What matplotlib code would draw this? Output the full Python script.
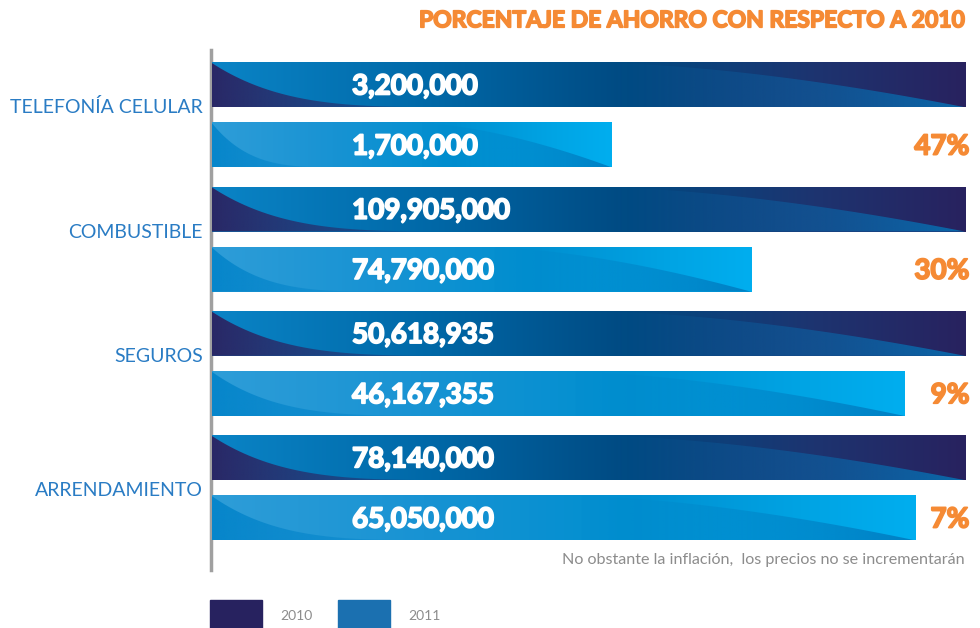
import numpy as np
import matplotlib.pyplot as plt
import matplotlib.patheffects as pe
from matplotlib.colors import LinearSegmentedColormap
from matplotlib.patches import Polygon, Rectangle

# data
categories = ["TELEFONÍA CELULAR", "COMBUSTIBLE", "SEGUROS", "ARRENDAMIENTO"]
gasto_2010 = [3200000, 109905000, 50618935, 78140000]
gasto_2011 = [1700000, 74790000, 46167355, 65050000]
ahorro_pct = [47, 30, 9, 7]
largo_2010 = [100, 100, 100, 100]          # bar length as drawn (% of full width)
largo_2011 = [53.1, 71.6, 92.0, 93.4]
years = ["2010", "2011"]

ORANGE = "#f58a34"
BLUE_TXT = "#2a7cc4"
GREY = "#8c8c8c"
label_dy = [-0.07, -0.06, -0.06, 0.02]

base_2010 = LinearSegmentedColormap.from_list(
    "b10", [(0, "#0a84c6"), (0.3, "#0067a6"), (0.55, "#004a82"),
            (0.8, "#1d3470"), (1, "#28225f")])
base_2011 = LinearSegmentedColormap.from_list(
    "b11", [(0, "#2e9dd8"), (0.3, "#1893d3"), (0.6, "#008fd0"),
            (0.85, "#00a4e4"), (1, "#00aeef")])


def hgrad(ax, cmap, x0, x1, y0, y1, clip=None, alpha=None, z=2):
    n = 256
    rgba = cmap(np.linspace(0, 1, n))[None, :, :].copy()
    if alpha is not None:
        rgba[0, :, 3] = alpha
    im = ax.imshow(rgba, extent=(x0, x1, y1, y0), aspect="auto",
                   interpolation="bilinear", zorder=z)
    if clip is not None:
        ax.add_patch(clip)
        im.set_clip_path(clip)
    return im


def draw_bar(ax, y, w, h, base, left_col, right_col):
    top, bot = y - h / 2, y + h / 2
    hgrad(ax, base, 0, w, top, bot)
    t = np.linspace(0, 1, 60)
    # lower-left swoosh
    x1 = 0.36 * w
    cx = t * x1
    cy = top + h * (1 - (1 - t) ** 4)
    verts = np.column_stack([np.r_[0, cx, 0], np.r_[top, cy, bot]])
    poly = Polygon(verts, closed=True, fc="none", ec="none")
    cm = LinearSegmentedColormap.from_list("l", [left_col, left_col])
    hgrad(ax, cm, 0, x1, top, bot, clip=poly,
          alpha=np.linspace(1, 0, 256) ** 0.8, z=3)
    # lower-right swoosh
    x0 = 0.52 * w
    cx = x0 + t * (w - x0)
    cy = top + h * t ** 1.6
    verts = np.column_stack([np.r_[cx, w, x0], np.r_[cy, bot, bot]])
    poly = Polygon(verts, closed=True, fc="none", ec="none")
    cm = LinearSegmentedColormap.from_list("r", [right_col, right_col])
    hgrad(ax, cm, x0, w, top, bot, clip=poly,
          alpha=np.linspace(0, 1, 256) ** 1.1, z=3)


fig = plt.figure(figsize=(9.8, 6.28), dpi=100)
ax = fig.add_axes([212 / 980, 58 / 628, 753 / 980, 520 / 628])
ax.set_axis_off()

gap = 0.242
h = 0.355
pos = np.arange(len(categories))
bold = dict(fontsize=20, fontweight="bold", family="Lato", zorder=5)
thick_w = [pe.withStroke(linewidth=1.3, foreground="white")]
thick_o = [pe.withStroke(linewidth=1.3, foreground=ORANGE)]
for i in pos:
    draw_bar(ax, i - gap, largo_2010[i], h, base_2010, "#2a2866", "#0a68aa")
    draw_bar(ax, i + gap, largo_2011[i], h, base_2011, "#0786cb", "#0080c4")
    ax.text(18.6, i - gap + 0.01, f"{gasto_2010[i]:,}", color="white",
            ha="left", va="center", path_effects=thick_w, **bold)
    ax.text(18.6, i + gap + 0.01, f"{gasto_2011[i]:,}", color="white",
            ha="left", va="center", path_effects=thick_w, **bold)
    ax.text(100.6, i + gap + 0.01, f"{ahorro_pct[i]}%", color=ORANGE,
            ha="right", va="center", path_effects=thick_o, **bold)
    ax.text(-1.2, i + label_dy[i], categories[i], color=BLUE_TXT, fontsize=14,
            family="Lato", ha="right", va="center")

ax.set_xlim(0, 100)
ax.set_ylim(3.658, -0.525)
ax.axvline(-0.15, color="#a0a0a0", lw=2.5, zorder=1, clip_on=False)

ax.text(100, -0.76, "PORCENTAJE DE AHORRO CON RESPECTO A 2010",
        color=ORANGE, fontsize=16.5, fontweight="bold", family="Lato",
        ha="right", va="center",
        path_effects=[pe.withStroke(linewidth=1.2, foreground=ORANGE)])
ax.text(100, 3.58, "No obstante la inflación,  los precios no se incrementarán",
        color=GREY, fontsize=11.6, family="Lato", ha="right", va="center")

# legend
leg_col = ["#27225f", "#1b70b0"]
leg_x = [212, 340]
for k, yr in enumerate(years):
    fig.patches.append(Rectangle((leg_x[k] / 980 - 2 / 980, 0), 52 / 980, 28 / 628,
                                 transform=fig.transFigure, color=leg_col[k]))
    fig.text((leg_x[k] + 68) / 980, 12 / 628, yr, color=GREY, fontsize=10,
             family="Lato", ha="left", va="center")

fig.savefig("out.png", dpi=100)
